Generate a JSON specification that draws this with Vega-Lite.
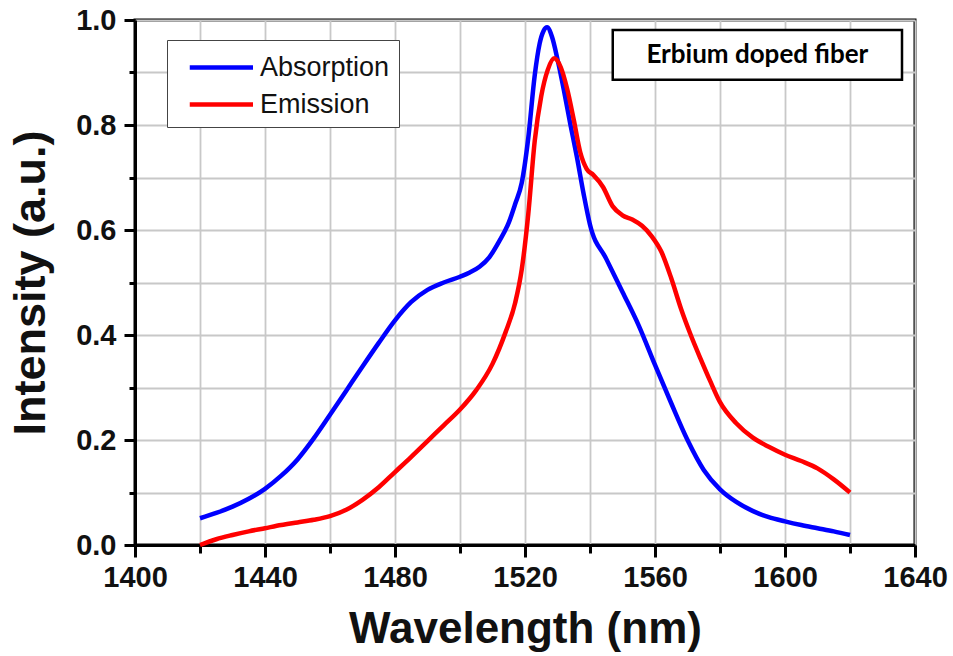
{
  "$schema": "https://vega.github.io/schema/vega-lite/v6.json",
  "width": 780,
  "height": 525,
  "autosize": {"type": "none"},
  "padding": {"left": 135, "top": 20, "right": 38, "bottom": 111},
  "background": "white",
  "config": {
    "view": {"stroke": "black", "strokeWidth": 3},
    "font": "Liberation Sans"
  },
  "datasets": {
    "spectra": [
      {"series": "Absorption", "wl": 1420, "v": 0.051},
      {"series": "Absorption", "wl": 1425, "v": 0.061},
      {"series": "Absorption", "wl": 1430, "v": 0.073},
      {"series": "Absorption", "wl": 1435, "v": 0.088},
      {"series": "Absorption", "wl": 1440, "v": 0.107},
      {"series": "Absorption", "wl": 1445, "v": 0.132},
      {"series": "Absorption", "wl": 1450, "v": 0.163},
      {"series": "Absorption", "wl": 1455, "v": 0.203},
      {"series": "Absorption", "wl": 1460, "v": 0.248},
      {"series": "Absorption", "wl": 1465, "v": 0.294},
      {"series": "Absorption", "wl": 1470, "v": 0.340},
      {"series": "Absorption", "wl": 1475, "v": 0.385},
      {"series": "Absorption", "wl": 1480, "v": 0.428},
      {"series": "Absorption", "wl": 1485, "v": 0.463},
      {"series": "Absorption", "wl": 1490, "v": 0.486},
      {"series": "Absorption", "wl": 1495, "v": 0.500},
      {"series": "Absorption", "wl": 1500, "v": 0.511},
      {"series": "Absorption", "wl": 1503, "v": 0.519},
      {"series": "Absorption", "wl": 1506, "v": 0.530},
      {"series": "Absorption", "wl": 1509, "v": 0.548},
      {"series": "Absorption", "wl": 1512, "v": 0.578},
      {"series": "Absorption", "wl": 1515, "v": 0.614},
      {"series": "Absorption", "wl": 1517, "v": 0.650},
      {"series": "Absorption", "wl": 1519, "v": 0.690},
      {"series": "Absorption", "wl": 1521, "v": 0.775},
      {"series": "Absorption", "wl": 1523, "v": 0.895},
      {"series": "Absorption", "wl": 1524.5, "v": 0.955},
      {"series": "Absorption", "wl": 1525.7, "v": 0.979},
      {"series": "Absorption", "wl": 1526.8, "v": 0.986},
      {"series": "Absorption", "wl": 1528.3, "v": 0.968},
      {"series": "Absorption", "wl": 1530, "v": 0.925},
      {"series": "Absorption", "wl": 1532, "v": 0.865},
      {"series": "Absorption", "wl": 1534, "v": 0.800},
      {"series": "Absorption", "wl": 1536, "v": 0.738},
      {"series": "Absorption", "wl": 1538, "v": 0.670},
      {"series": "Absorption", "wl": 1540, "v": 0.610},
      {"series": "Absorption", "wl": 1545, "v": 0.545},
      {"series": "Absorption", "wl": 1550, "v": 0.482},
      {"series": "Absorption", "wl": 1555, "v": 0.418},
      {"series": "Absorption", "wl": 1560, "v": 0.343},
      {"series": "Absorption", "wl": 1565, "v": 0.270},
      {"series": "Absorption", "wl": 1570, "v": 0.200},
      {"series": "Absorption", "wl": 1575, "v": 0.143},
      {"series": "Absorption", "wl": 1580, "v": 0.106},
      {"series": "Absorption", "wl": 1585, "v": 0.082},
      {"series": "Absorption", "wl": 1590, "v": 0.065},
      {"series": "Absorption", "wl": 1595, "v": 0.053},
      {"series": "Absorption", "wl": 1600, "v": 0.045},
      {"series": "Absorption", "wl": 1605, "v": 0.038},
      {"series": "Absorption", "wl": 1610, "v": 0.032},
      {"series": "Absorption", "wl": 1615, "v": 0.026},
      {"series": "Absorption", "wl": 1620, "v": 0.019},
      {"series": "Emission", "wl": 1420, "v": 0.000},
      {"series": "Emission", "wl": 1425, "v": 0.011},
      {"series": "Emission", "wl": 1430, "v": 0.019},
      {"series": "Emission", "wl": 1435, "v": 0.026},
      {"series": "Emission", "wl": 1440, "v": 0.032},
      {"series": "Emission", "wl": 1445, "v": 0.038},
      {"series": "Emission", "wl": 1450, "v": 0.043},
      {"series": "Emission", "wl": 1455, "v": 0.048},
      {"series": "Emission", "wl": 1460, "v": 0.055},
      {"series": "Emission", "wl": 1465, "v": 0.067},
      {"series": "Emission", "wl": 1470, "v": 0.086},
      {"series": "Emission", "wl": 1475, "v": 0.110},
      {"series": "Emission", "wl": 1480, "v": 0.139},
      {"series": "Emission", "wl": 1485, "v": 0.168},
      {"series": "Emission", "wl": 1490, "v": 0.198},
      {"series": "Emission", "wl": 1495, "v": 0.228},
      {"series": "Emission", "wl": 1500, "v": 0.258},
      {"series": "Emission", "wl": 1505, "v": 0.295},
      {"series": "Emission", "wl": 1510, "v": 0.345},
      {"series": "Emission", "wl": 1514, "v": 0.405},
      {"series": "Emission", "wl": 1517, "v": 0.462},
      {"series": "Emission", "wl": 1519, "v": 0.525},
      {"series": "Emission", "wl": 1521, "v": 0.630},
      {"series": "Emission", "wl": 1523, "v": 0.770},
      {"series": "Emission", "wl": 1525, "v": 0.855},
      {"series": "Emission", "wl": 1527, "v": 0.905},
      {"series": "Emission", "wl": 1529, "v": 0.927},
      {"series": "Emission", "wl": 1531, "v": 0.910},
      {"series": "Emission", "wl": 1533, "v": 0.868},
      {"series": "Emission", "wl": 1535, "v": 0.810},
      {"series": "Emission", "wl": 1537, "v": 0.748},
      {"series": "Emission", "wl": 1539, "v": 0.716},
      {"series": "Emission", "wl": 1541, "v": 0.705},
      {"series": "Emission", "wl": 1544, "v": 0.682},
      {"series": "Emission", "wl": 1547, "v": 0.645},
      {"series": "Emission", "wl": 1550, "v": 0.628},
      {"series": "Emission", "wl": 1553, "v": 0.620},
      {"series": "Emission", "wl": 1556, "v": 0.608},
      {"series": "Emission", "wl": 1559, "v": 0.588},
      {"series": "Emission", "wl": 1562, "v": 0.558},
      {"series": "Emission", "wl": 1565, "v": 0.508},
      {"series": "Emission", "wl": 1568, "v": 0.450},
      {"series": "Emission", "wl": 1571, "v": 0.400},
      {"series": "Emission", "wl": 1574, "v": 0.355},
      {"series": "Emission", "wl": 1577, "v": 0.312},
      {"series": "Emission", "wl": 1580, "v": 0.272},
      {"series": "Emission", "wl": 1585, "v": 0.232},
      {"series": "Emission", "wl": 1590, "v": 0.205},
      {"series": "Emission", "wl": 1595, "v": 0.187},
      {"series": "Emission", "wl": 1600, "v": 0.172},
      {"series": "Emission", "wl": 1605, "v": 0.160},
      {"series": "Emission", "wl": 1610, "v": 0.146},
      {"series": "Emission", "wl": 1615, "v": 0.125},
      {"series": "Emission", "wl": 1620, "v": 0.100}
    ],
    "label": [{"text": "Erbium doped fiber", "x1": 1547, "x2": 1636, "y1": 0.886, "y2": 0.981, "xc": 1591.5, "yc": 0.933}]
  },
  "layer": [
    {
      "data": {"name": "spectra"},
      "mark": {"type": "line", "strokeWidth": 4.5, "interpolate": "monotone"},
      "encoding": {
        "x": {
          "field": "wl", "type": "quantitative",
          "scale": {"domain": [1400, 1640], "nice": false, "zero": false},
          "axis": {
            "title": "Wavelength (nm)",
            "titleFont": "Liberation Sans", "titleFontSize": 44, "titleFontWeight": "bold", "titleColor": "#111",
            "titlePadding": 15,
            "values": [1400, 1420, 1440, 1460, 1480, 1500, 1520, 1540, 1560, 1580, 1600, 1620, 1640],
            "labelExpr": "datum.value % 40 === 0 ? datum.label : ''",
            "format": "d",
            "labelFont": "Liberation Sans", "labelFontSize": 29, "labelFontWeight": "bold", "labelColor": "#111",
            "labelPadding": 6, "labelFlush": false,
            "grid": true, "gridColor": "#c8c8c8", "gridWidth": 1.8,
            "domainColor": "black", "domainWidth": 3,
            "tickColor": "black", "tickWidth": 3,
            "tickSize": {"condition": {"test": "datum.value % 40 === 0", "value": 12}, "value": 8}
          }
        },
        "y": {
          "field": "v", "type": "quantitative",
          "scale": {"domain": [0, 1], "nice": false},
          "axis": {
            "title": "Intensity (a.u.)",
            "titleFont": "Liberation Sans", "titleFontSize": 45, "titleFontWeight": "bold", "titleColor": "#111",
            "titlePadding": 22,
            "values": [0, 0.1, 0.2, 0.3, 0.4, 0.5, 0.6, 0.7, 0.8, 0.9, 1.0],
            "format": ".1f",
            "labelExpr": "round(datum.value * 10) % 2 === 0 ? datum.label : ''",
            "labelFont": "Liberation Sans", "labelFontSize": 29, "labelFontWeight": "bold", "labelColor": "#111",
            "labelPadding": 8, "labelFlush": false,
            "grid": true, "gridColor": "#c8c8c8", "gridWidth": 1.8,
            "domainColor": "black", "domainWidth": 3,
            "tickColor": "black", "tickWidth": 3,
            "tickSize": {"condition": {"test": "round(datum.value * 10) % 2 === 0", "value": 11}, "value": 6}
          }
        },
        "color": {
          "field": "series", "type": "nominal",
          "scale": {"domain": ["Absorption", "Emission"], "range": ["#0000ff", "#ff0000"]},
          "legend": {
            "title": null,
            "orient": "none", "legendX": 32, "legendY": 20,
            "symbolType": "M-0.3,0H3.7", "symbolSize": 1000, "symbolStrokeWidth": 4.5,
            "labelFont": "Liberation Sans", "labelFontSize": 27, "labelColor": "#111", "labelOffset": 47,
            "labelExpr": "datum.label + '  '",
            "rowPadding": 5,
            "padding": 9,
            "fillColor": "white", "strokeColor": "#444"
          }
        }
      }
    },
    {
      "data": {"name": "label"},
      "mark": {"type": "rect", "fill": "white", "stroke": "black", "strokeWidth": 2.5},
      "encoding": {
        "x": {"field": "x1", "type": "quantitative"},
        "x2": {"field": "x2"},
        "y": {"field": "y1", "type": "quantitative"},
        "y2": {"field": "y2"}
      }
    },
    {
      "data": {"name": "label"},
      "mark": {"type": "text", "font": "Lato", "fontWeight": "bold", "fontSize": 26, "color": "black", "align": "center", "baseline": "middle"},
      "encoding": {
        "x": {"field": "xc", "type": "quantitative"},
        "y": {"field": "yc", "type": "quantitative"},
        "text": {"field": "text"}
      }
    }
  ]
}
